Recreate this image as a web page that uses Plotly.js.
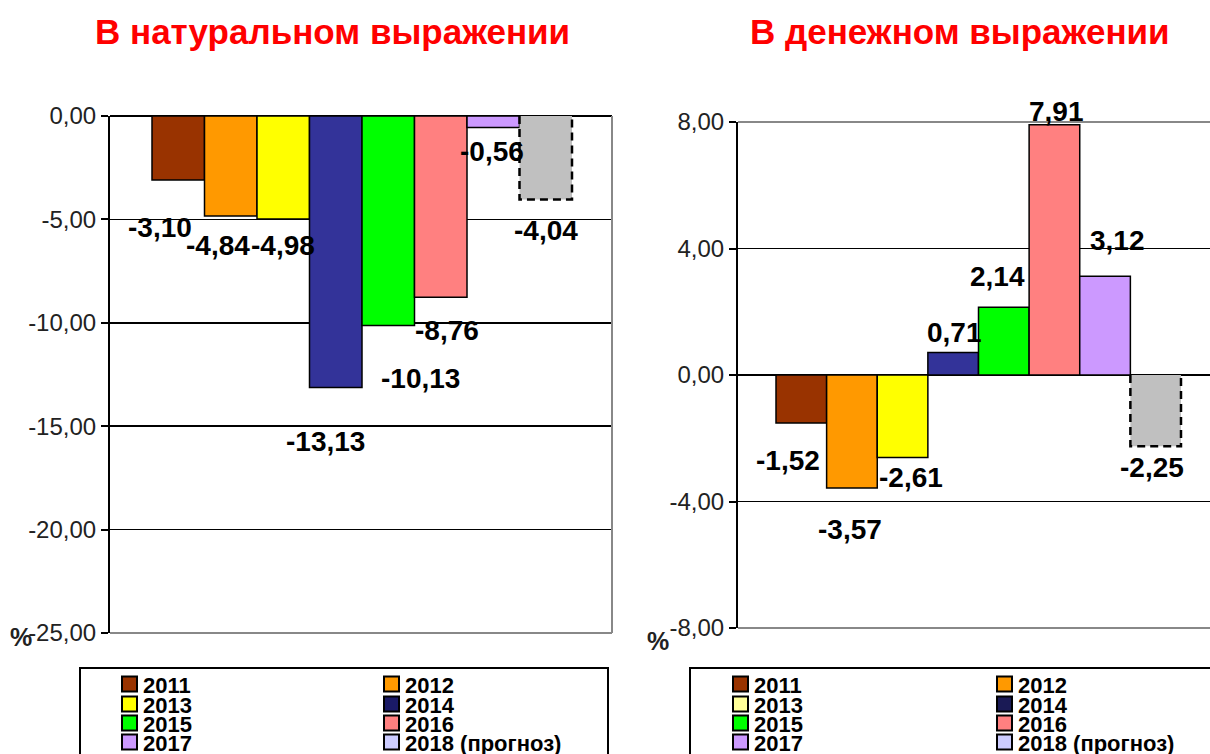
<!DOCTYPE html>
<html>
<head>
<meta charset="utf-8">
<script src="https://cdn.plot.ly/plotly-3.0.1.min.js"></script>
<style>html,body{margin:0;padding:0;background:#fff;}#chart{width:1210px;height:754px;}</style>
</head>
<body>
<div id="chart"></div>
<script>
// ---- data ----
const years = ['2011', '2012', '2013', '2014', '2015', '2016', '2017', '2018'];
const legendLabels = ['2011', '2012', '2013', '2014', '2015', '2016', '2017', '2018 (прогноз)'];
const naturalChange = [-3.10, -4.84, -4.98, -13.13, -10.13, -8.76, -0.56, -4.04];
const monetaryChange = [-1.52, -3.57, -2.61, 0.71, 2.14, 7.91, 3.12, -2.25];
const leftTickVals = [0, -5, -10, -15, -20, -25];
const leftTickText = ['0,00', '-5,00', '-10,00', '-15,00', '-20,00', '-25,00'];
const rightTickVals = [8, 4, 0, -4, -8];
const rightTickText = ['8,00', '4,00', '0,00', '-4,00', '-8,00'];
const titleLeft = 'В натуральном выражении';
const titleRight = 'В денежном выражении';
const unitLabel = '%';

// ---- styles ----
const FONT = 'Arial, "Liberation Sans", sans-serif';
const barColors = ['#993300', '#FF9900', '#FFFF00', '#333399', '#00FF00', '#FF8080', '#CC99FF', '#C0C0C0'];
const legendColorsLeft = ['#993300', '#FF9900', '#FFFF00', '#1a1a66', '#00FF00', '#FF8080', '#CC99FF', '#CCCCFF'];
const legendColorsRight = ['#993300', '#FF9900', '#FFFF99', '#1a1a55', '#00FF00', '#FF8080', '#CC99FF', '#CCCCFF'];
// label offsets (pixels) relative to bar end, mimicking the original placement
const leftLabelShift = [[-18, -47], [-13, -29], [0, -27], [-10, -54], [32, -53], [6, -33], [-1, -24], [0, -31]];
const rightLabelShift = [[-13, -37], [-2, -42], [8, -20], [1, 20], [-6, 31], [2, 13], [12, 36], [-4, -21]];

const W = 1210, H = 754;
const px = x => x / W;
const py = y => 1 - y / H;
const fmt = v => v.toFixed(2).replace('.', ',');
const idx = years.map((_, i) => i);
const last = years.length - 1;

function barTrace(vals, xa, ya) {
  return {
    type: 'bar', x: idx, y: vals, xaxis: xa, yaxis: ya, width: 1,
    marker: {
      color: barColors,
      line: {color: '#000', width: vals.map((_, i) => i === last ? 0 : 1.5)}
    },
    hoverinfo: 'skip', showlegend: false
  };
}
function forecastOutline(vals, xa, ya) {
  const v = vals[last];
  return {
    type: 'scatter', mode: 'lines', xaxis: xa, yaxis: ya,
    x: [last - 0.5, last - 0.5, last + 0.5, last + 0.5],
    y: [0, v, v, 0],
    line: {color: '#000', width: 2.5, dash: '8px,5px'},
    hoverinfo: 'skip', showlegend: false
  };
}

const data = [
  barTrace(naturalChange, 'x', 'y'),
  forecastOutline(naturalChange, 'x', 'y'),
  barTrace(monetaryChange, 'x2', 'y2'),
  forecastOutline(monetaryChange, 'x2', 'y2')
];

const LABEL_FONT = {family: FONT, size: 28, color: '#000', weight: 'bold'};
const annotations = [];
naturalChange.forEach((v, i) => annotations.push({
  xref: 'x', yref: 'y', x: i, y: v, text: fmt(v), showarrow: false,
  xshift: leftLabelShift[i][0], yshift: leftLabelShift[i][1], font: LABEL_FONT
}));
monetaryChange.forEach((v, i) => annotations.push({
  xref: 'x2', yref: 'y2', x: i, y: v, text: fmt(v), showarrow: false,
  xshift: rightLabelShift[i][0], yshift: rightLabelShift[i][1], font: LABEL_FONT
}));
// titles
annotations.push({xref: 'paper', yref: 'paper', x: px(332), y: py(32), text: titleLeft, showarrow: false,
  xanchor: 'center', yanchor: 'middle', font: {family: FONT, size: 35, color: '#FF0000', weight: 'bold'}});
annotations.push({xref: 'paper', yref: 'paper', x: px(960), y: py(32), text: titleRight, showarrow: false,
  xanchor: 'center', yanchor: 'middle', font: {family: FONT, size: 35, color: '#FF0000', weight: 'bold'}});
// unit labels
annotations.push({xref: 'paper', yref: 'paper', x: px(21), y: py(637), text: unitLabel, showarrow: false,
  xanchor: 'center', yanchor: 'middle', font: {family: FONT, size: 25, color: '#222', weight: 'bold'}});
annotations.push({xref: 'paper', yref: 'paper', x: px(658), y: py(641), text: unitLabel, showarrow: false,
  xanchor: 'center', yanchor: 'middle', font: {family: FONT, size: 25, color: '#222', weight: 'bold'}});

const shapes = [
  // plot area borders (grey)
  {type: 'line', xref: 'paper', yref: 'paper', x0: px(612), x1: px(612), y0: py(116), y1: py(633), line: {color: '#888', width: 2}, layer: 'above'},
  {type: 'line', xref: 'paper', yref: 'paper', x0: px(110), x1: px(612), y0: py(633), y1: py(633), line: {color: '#888', width: 2}, layer: 'above'},
  {type: 'line', xref: 'paper', yref: 'paper', x0: px(738), x1: px(1210), y0: py(122), y1: py(122), line: {color: '#888', width: 2}, layer: 'above'},
  {type: 'line', xref: 'paper', yref: 'paper', x0: px(738), x1: px(1210), y0: py(628), y1: py(628), line: {color: '#888', width: 2}, layer: 'above'},
  // legend boxes
  {type: 'rect', xref: 'paper', yref: 'paper', x0: px(80), x1: px(608), y0: py(668), y1: py(770), line: {color: '#000', width: 2}},
  {type: 'rect', xref: 'paper', yref: 'paper', x0: px(690), x1: px(1225), y0: py(668), y1: py(770), line: {color: '#000', width: 2}}
];

function addLegend(colors, col1x, col2x) {
  const rowY = [684, 704, 723, 742];
  legendLabels.forEach((lab, i) => {
    const sx = (i % 2 === 0) ? col1x : col2x;
    const cy = rowY[Math.floor(i / 2)];
    shapes.push({type: 'rect', xref: 'paper', yref: 'paper', x0: px(sx), x1: px(sx + 15), y0: py(cy - 7.5), y1: py(cy + 7.5),
      fillcolor: colors[i], line: {color: '#000', width: 2}});
    annotations.push({xref: 'paper', yref: 'paper', x: px(sx + 19), y: py(cy + 1), text: lab, showarrow: false,
      xanchor: 'left', yanchor: 'middle', font: {family: FONT, size: 22, color: '#000', weight: 'bold'}});
  });
}
addLegend(legendColorsLeft, 122, 384);
addLegend(legendColorsRight, 733, 997);

const yCommon = {
  showline: true, linecolor: '#000', linewidth: 2,
  ticks: 'outside', ticklen: 7, tickwidth: 2, tickcolor: '#000',
  showgrid: true, gridcolor: '#000', gridwidth: 1.5,
  zeroline: true, zerolinecolor: '#000', zerolinewidth: 2,
  tickfont: {family: FONT, size: 24, color: '#222'},
  tickmode: 'array', fixedrange: true
};
const xCommon = {showticklabels: false, showgrid: false, zeroline: false, showline: false, ticks: '', fixedrange: true};

const layout = {
  width: W, height: H, autosize: false,
  margin: {l: 0, r: 0, t: 0, b: 0, pad: 0},
  paper_bgcolor: '#fff', plot_bgcolor: 'rgba(0,0,0,0)',
  showlegend: false, barmode: 'overlay', bargap: 0,
  xaxis: Object.assign({}, xCommon, {domain: [px(110), px(612)], range: [-1.3, 8.262], anchor: 'y'}),
  yaxis: Object.assign({}, yCommon, {domain: [py(633), py(116)], range: [-25, 0], tickvals: leftTickVals, ticktext: leftTickText, anchor: 'x'}),
  xaxis2: Object.assign({}, xCommon, {domain: [px(738), 1], range: [-1.2506, 8.073], anchor: 'y2'}),
  yaxis2: Object.assign({}, yCommon, {domain: [py(628), py(122)], range: [-8, 8], tickvals: rightTickVals, ticktext: rightTickText, anchor: 'x2'}),
  annotations: annotations,
  shapes: shapes,
  font: {family: FONT}
};

Plotly.newPlot('chart', data, layout, {displayModeBar: false, staticPlot: true});
</script>
</body>
</html>
